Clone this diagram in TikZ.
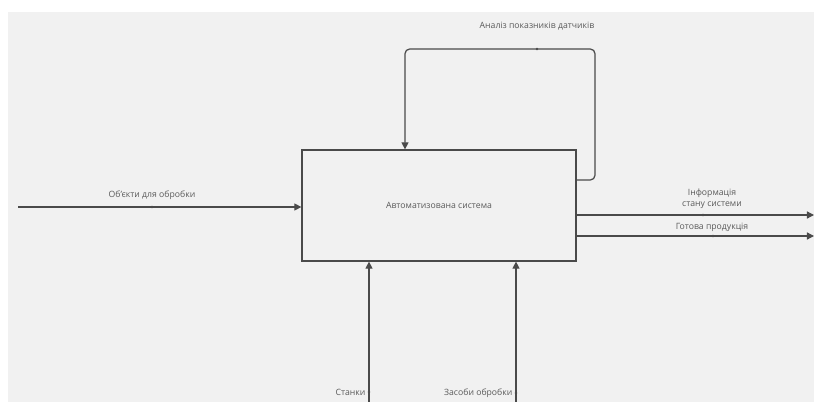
\documentclass[tikz,border=0pt]{standalone}
\usepackage{fontspec}
\setmainfont{Open Sans}
\usetikzlibrary{arrows.meta}

\definecolor{bggray}{HTML}{F1F1F1}
\definecolor{linegray}{HTML}{4A4A4A}
\definecolor{textgray}{HTML}{5A5A5A}

\tikzset{
  lbl/.style={text=textgray, font=\fontsize{7.4}{9}\selectfont, inner sep=0pt, align=center},
  tick/.style={circle, fill=linegray, inner sep=0pt, minimum size=2.2pt},
}

\begin{document}
\begin{tikzpicture}[x=0.03cm, y=-0.03cm, >={Triangle[length=6pt, width=6pt]}, line width=1.05pt, draw=linegray];

\fill[white] (0,0) rectangle (814,402);
\fill[bggray] (8,12) rectangle (814,402);
\useasboundingbox (0,0) rectangle (814,402);

\node (sys) at (439,205.5) [draw, minimum width=8.22cm, minimum height=3.33cm] {};
\node (syslbl) at (sys.center) [lbl] {Автоматизована система};

\coordinate (in1) at (18,207);
\coordinate (out1) at (814,215);
\coordinate (out2) at (814,236);
\coordinate (mech1) at (369,402);
\coordinate (mech2) at (516,402);
\coordinate (fbr) at (595,180);
\coordinate (fbl) at (405,49);

\path[->] (in1) edge (in1 -| sys.west);
\path[->] (out1 -| sys.east) edge (out1);
\path[->] (out2 -| sys.east) edge (out2);
\path[->] (mech1) edge (mech1 |- sys.south);
\path[->] (mech2) edge (mech2 |- sys.south);
\draw[->, rounded corners=4] (fbr -| sys.east) -- (fbr) -- (fbr |- fbl) -- (fbl) -- (fbl |- sys.north);

\node (t1) at (152,207) [tick] {};
\node (t2) at (537,49) [tick] {};
\node (t3) at (703,215) [tick] {};
\node (t4) at (713,236) [tick] {};
\node (t5) at (369,392) [tick] {};
\node (t6) at (516,393) [tick] {};

\node (inlbl) at (152,195) [lbl] {Об'єкти для обробки};
\node (fblbl) at (537,26) [lbl] {Аналіз показників датчиків};
\node (out1lbl) at (712,199) [lbl] {Інформація\\стану системи};
\node (out2lbl) at (712,227) [lbl] {Готова продукція};
\node (mech1lbl) at (366,392) [lbl, anchor=east] {Станки};
\node (mech2lbl) at (513,393) [lbl, anchor=east] {Засоби обробки};

\end{tikzpicture}
\end{document}
